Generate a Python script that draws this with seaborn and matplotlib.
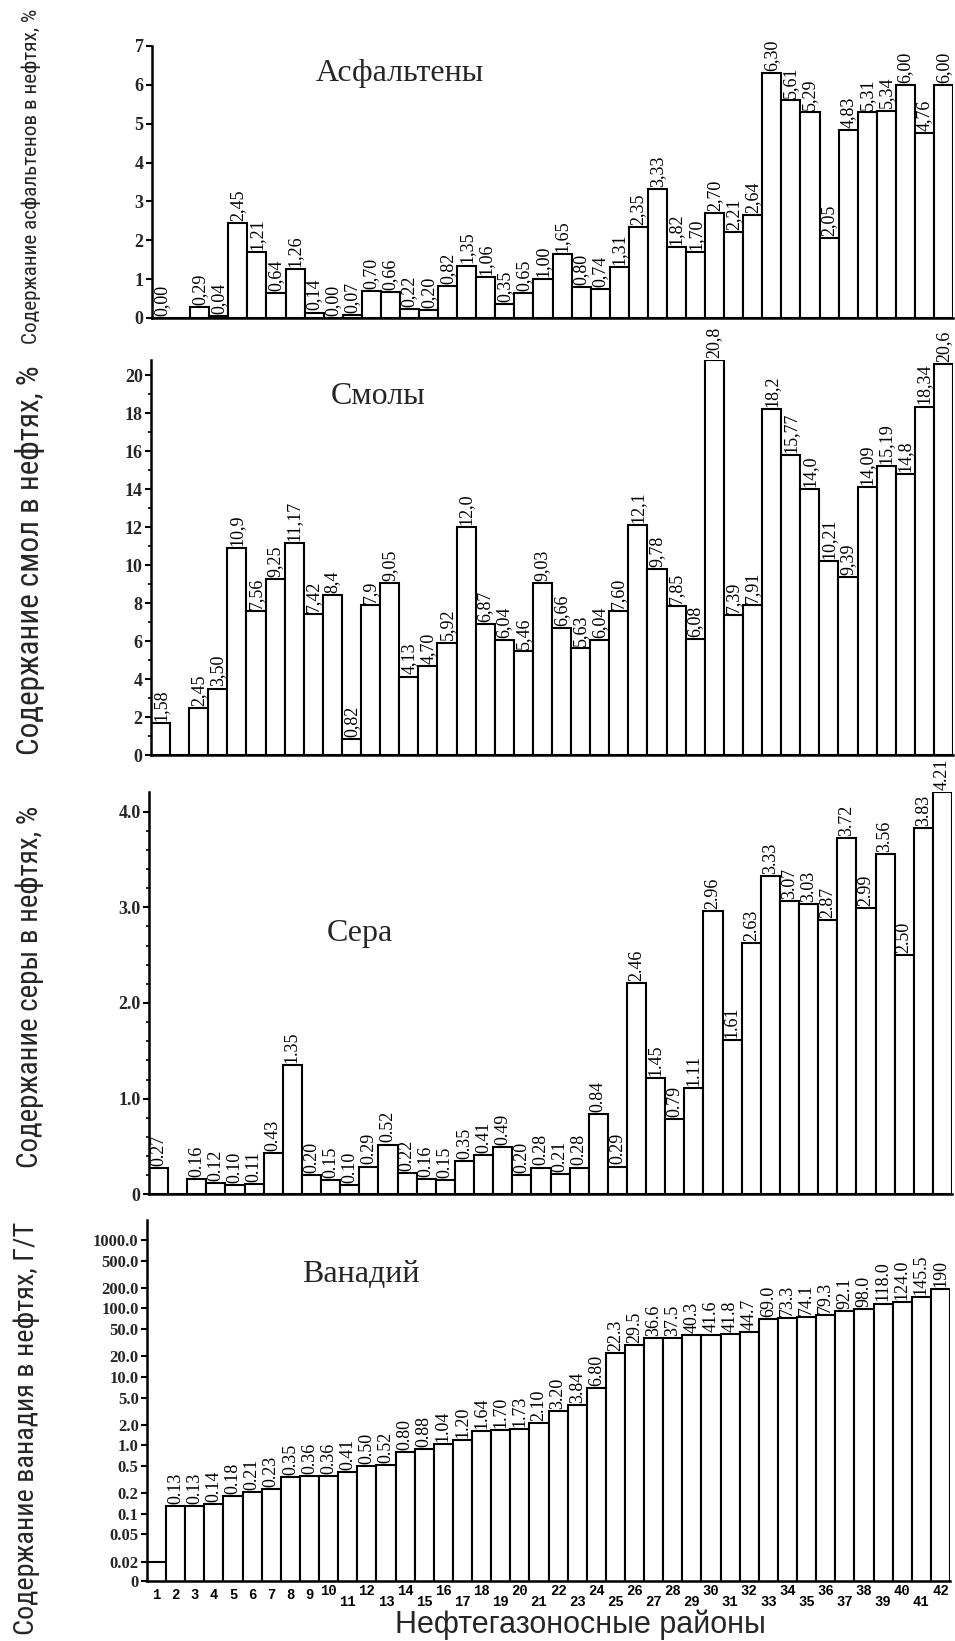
import matplotlib.pyplot as plt
import matplotlib.transforms as mtransforms
from matplotlib import font_manager
from matplotlib.ticker import NullLocator
import seaborn as sns
import pandas as pd

# --- данные ---
districts = list(range(1, 43))

asph_values = [0.00, 0.00, 0.29, 0.04, 2.45, 1.70, 0.64, 1.26, 0.14, 0.00,
               0.07, 0.70, 0.66, 0.22, 0.20, 0.82, 1.35, 1.06, 0.35, 0.65,
               1.00, 1.65, 0.80, 0.74, 1.31, 2.35, 3.33, 1.82, 1.70, 2.70,
               2.21, 2.64, 6.30, 5.61, 5.29, 2.05, 4.83, 5.31, 5.34, 6.00,
               4.76, 6.00]
asph_labels = ["0,00", "", "0,29", "0,04", "2,45", "1,21", "0,64", "1,26", "0,14", "0,00",
               "0,07", "0,70", "0,66", "0,22", "0,20", "0,82", "1,35", "1,06", "0,35", "0,65",
               "1,00", "1,65", "0,80", "0,74", "1,31", "2,35", "3,33", "1,82", "1,70", "2,70",
               "2,21", "2,64", "6,30", "5,61", "5,29", "2,05", "4,83", "5,31", "5,34", "6,00",
               "4,76", "6,00"]

resin_values = [1.70, 0.00, 2.45, 3.50, 10.9, 7.56, 9.25, 11.17, 7.42, 8.4,
                0.82, 7.9, 9.05, 4.13, 4.70, 5.92, 12.0, 6.87, 6.04, 5.46,
                9.03, 6.66, 5.63, 6.04, 7.60, 12.1, 9.78, 7.85, 6.08, 20.8,
                7.39, 7.91, 18.2, 15.77, 14.0, 10.21, 9.39, 14.09, 15.19, 14.8,
                18.34, 20.6]
resin_labels = ["1,58", "", "2,45", "3,50", "10,9", "7,56", "9,25", "11,17", "7,42", "8,4",
                "0,82", "7,9", "9,05", "4,13", "4,70", "5,92", "12,0", "6,87", "6,04", "5,46",
                "9,03", "6,66", "5,63", "6,04", "7,60", "12,1", "9,78", "7,85", "6,08", "20,8",
                "7,39", "7,91", "18,2", "15,77", "14,0", "10,21", "9,39", "14,09", "15,19", "14,8",
                "18,34", "20,6"]

sulfur_values = [0.27, 0.00, 0.16, 0.12, 0.10, 0.11, 0.43, 1.35, 0.20, 0.15,
                 0.10, 0.29, 0.52, 0.22, 0.16, 0.15, 0.35, 0.41, 0.49, 0.20,
                 0.28, 0.21, 0.28, 0.84, 0.29, 2.21, 1.22, 0.79, 1.11, 2.96,
                 1.61, 2.63, 3.33, 3.07, 3.03, 2.87, 3.72, 2.99, 3.56, 2.50,
                 3.83, 4.21]
sulfur_labels = ["0.27", "", "0.16", "0.12", "0.10", "0.11", "0.43", "1.35", "0.20", "0.15",
                 "0.10", "0.29", "0.52", "0.22", "0.16", "0.15", "0.35", "0.41", "0.49", "0.20",
                 "0.28", "0.21", "0.28", "0.84", "0.29", "2.46", "1.45", "0.79", "1.11", "2.96",
                 "1.61", "2.63", "3.33", "3.07", "3.03", "2.87", "3.72", "2.99", "3.56", "2.50",
                 "3.83", "4.21"]

vanad_values = [0.02, 0.13, 0.13, 0.14, 0.18, 0.21, 0.23, 0.35, 0.36, 0.36,
                0.41, 0.50, 0.52, 0.80, 0.88, 1.04, 1.20, 1.64, 1.70, 1.73,
                2.10, 3.20, 3.84, 6.80, 22.3, 29.5, 36.6, 37.5, 40.3, 41.6,
                41.8, 44.7, 69.0, 73.3, 74.1, 79.3, 92.1, 98.0, 118.0, 124.0,
                145.5, 190.0]
vanad_labels = ["", "0.13", "0.13", "0.14", "0.18", "0.21", "0.23", "0.35", "0.36", "0.36",
                "0.41", "0.50", "0.52", "0.80", "0.88", "1.04", "1.20", "1.64", "1.70", "1.73",
                "2.10", "3.20", "3.84", "6.80", "22.3", "29.5", "36.6", "37.5", "40.3", "41.6",
                "41.8", "44.7", "69.0", "73.3", "74.1", "79.3", "92.1", "98.0", "118.0", "124.0",
                "145.5", "190"]

vanad_ticks = [0.02, 0.05, 0.1, 0.2, 0.5, 1, 2, 5, 10, 20, 50, 100, 200, 500, 1000]
vanad_ticklabels = ["0.02", "0.05", "0.1", "0.2", "0.5", "1.0", "2.0", "5.0", "10.0",
                    "20.0", "50.0", "100.0", "200.0", "500.0", "1000.0"]

# --- оформление ---
sns.set_theme(style="ticks")
plt.rcParams['font.family'] = ['Liberation Serif', 'DejaVu Serif']

avail = {f.name for f in font_manager.fontManager.ttflist}
narrow = next((n for n in ['Liberation Sans Narrow', 'Roboto Condensed', 'Open Sans Condensed',
                           'DejaVu Sans Condensed', 'Liberation Sans'] if n in avail), 'DejaVu Sans')

W, H = 955, 1641
fig = plt.figure(figsize=(W / 100, H / 100), dpi=100)
fig.patch.set_facecolor('white')


def add_panel(left, top, right, bottom):
    return fig.add_axes([left / W, 1 - bottom / H, (right - left) / W, (bottom - top) / H])


def draw_bars(ax, values, labels):
    df = pd.DataFrame({'district': districts, 'value': values})
    sns.barplot(data=df, x='district', y='value', color='white', edgecolor='black',
                linewidth=1.5, width=1.0, saturation=1, errorbar=None, ax=ax)
    for i, (v, lab) in enumerate(zip(values, labels)):
        if lab:
            ax.annotate(lab, (i, v), xytext=(0, 1.5), textcoords='offset points',
                        rotation=90, ha='center', va='bottom', fontsize=13, color='black')
    ax.set_facecolor('white')
    ax.set_xlim(-0.5, 41.5)
    ax.set_xlabel('')
    ax.set_ylabel('')
    ax.tick_params(axis='x', length=0, labelbottom=False)
    ax.tick_params(axis='y', which='major', direction='out', length=4, width=1.5,
                   color='black', pad=2)
    ax.tick_params(axis='y', which='minor', direction='out', length=2.5, width=1.2,
                   color='black')
    sns.despine(ax=ax)
    for s in ['left', 'bottom']:
        ax.spines[s].set_linewidth(1.8)
        ax.spines[s].set_color('black')


def ylabel(text, x, y, length):
    t = fig.text(x / W, 1 - y / H, text, rotation=90, ha='center', va='center',
                 family=[narrow, 'DejaVu Sans'], fontsize=16)
    bb = t.get_window_extent(fig.canvas.get_renderer())
    t.set_fontsize(16 * length / bb.height)
    return t


def title(text, x, y):
    fig.text(x / W, 1 - y / H, text, ha='center', va='center', fontsize=23)


tick_font = dict(fontweight='bold', fontsize=13)

# Асфальтены
ax1 = add_panel(152, 46, 953, 318)
draw_bars(ax1, asph_values, asph_labels)
ax1.set_ylim(0, 7)
ax1.set_yticks(range(0, 8), [str(v) for v in range(0, 8)], **tick_font)
title('Асфальтены', 400, 74)
ylabel('Содержание асфальтенов в нефтях, %', 31, 176, 338)

# Смолы
ax2 = add_panel(151, 755 - 20.8 * 19, 953, 755)
draw_bars(ax2, resin_values, resin_labels)
ax2.set_ylim(0, 20.8)
ax2.set_yticks(range(0, 21, 2), [str(v) for v in range(0, 21, 2)], **tick_font)
ax2.set_yticks(range(1, 21, 2), minor=True)
title('Смолы', 378, 397)
ylabel('Содержание смол в нефтях, %', 30, 560, 390)

# Сера
ax3 = add_panel(149, 1194.3 - 4.21 * 95.65, 952, 1194.3)
draw_bars(ax3, sulfur_values, sulfur_labels)
ax3.set_ylim(0, 4.21)
ax3.set_yticks([0, 1, 2, 3, 4], ['0', '1.0', '2.0', '3.0', '4.0'], **tick_font)
ax3.set_yticks([v / 5 for v in range(1, 21) if v % 5], minor=True)
title('Сера', 360, 933)
ylabel('Содержание серы в нефтях, %', 30, 987, 363)

# Ванадий
vbottom = 0.01055
ax4 = add_panel(147, 1220, 950, 1580.7)
draw_bars(ax4, vanad_values, vanad_labels)
ax4.set_yscale('log')
ax4.set_ylim(vbottom, 1959)
ax4.yaxis.set_minor_locator(NullLocator())
ax4.set_yticks([vbottom] + vanad_ticks, ['0'] + vanad_ticklabels,
               fontweight='bold', fontsize=12)
title('Ванадий', 361, 1275)
ylabel('Содержание ванадия в нефтях, Г/Т', 27, 1428, 415)

# номера районов (ступенчатые подписи)
trans = mtransforms.blended_transform_factory(ax4.transData, fig.transFigure)
for i, d in enumerate(districts):
    if d < 10:
        y = 1595
    elif d % 2 == 0:
        y = 1591
    else:
        y = 1602
    ax4.text(i, 1 - y / H, str(d), transform=trans, ha='center', va='center',
             family=['Liberation Mono', 'DejaVu Sans Mono'], fontweight='bold',
             fontsize=10, color='black')

xl = fig.text(580 / W, 1 - 1625 / H, 'Нефтегазоносные районы', ha='center', va='center',
              family=['Liberation Sans', 'DejaVu Sans'], fontsize=20)
bb = xl.get_window_extent(fig.canvas.get_renderer())
xl.set_fontsize(min(20 * 372 / bb.width, 22))

fig.savefig('out.png', dpi=100, facecolor='white')
